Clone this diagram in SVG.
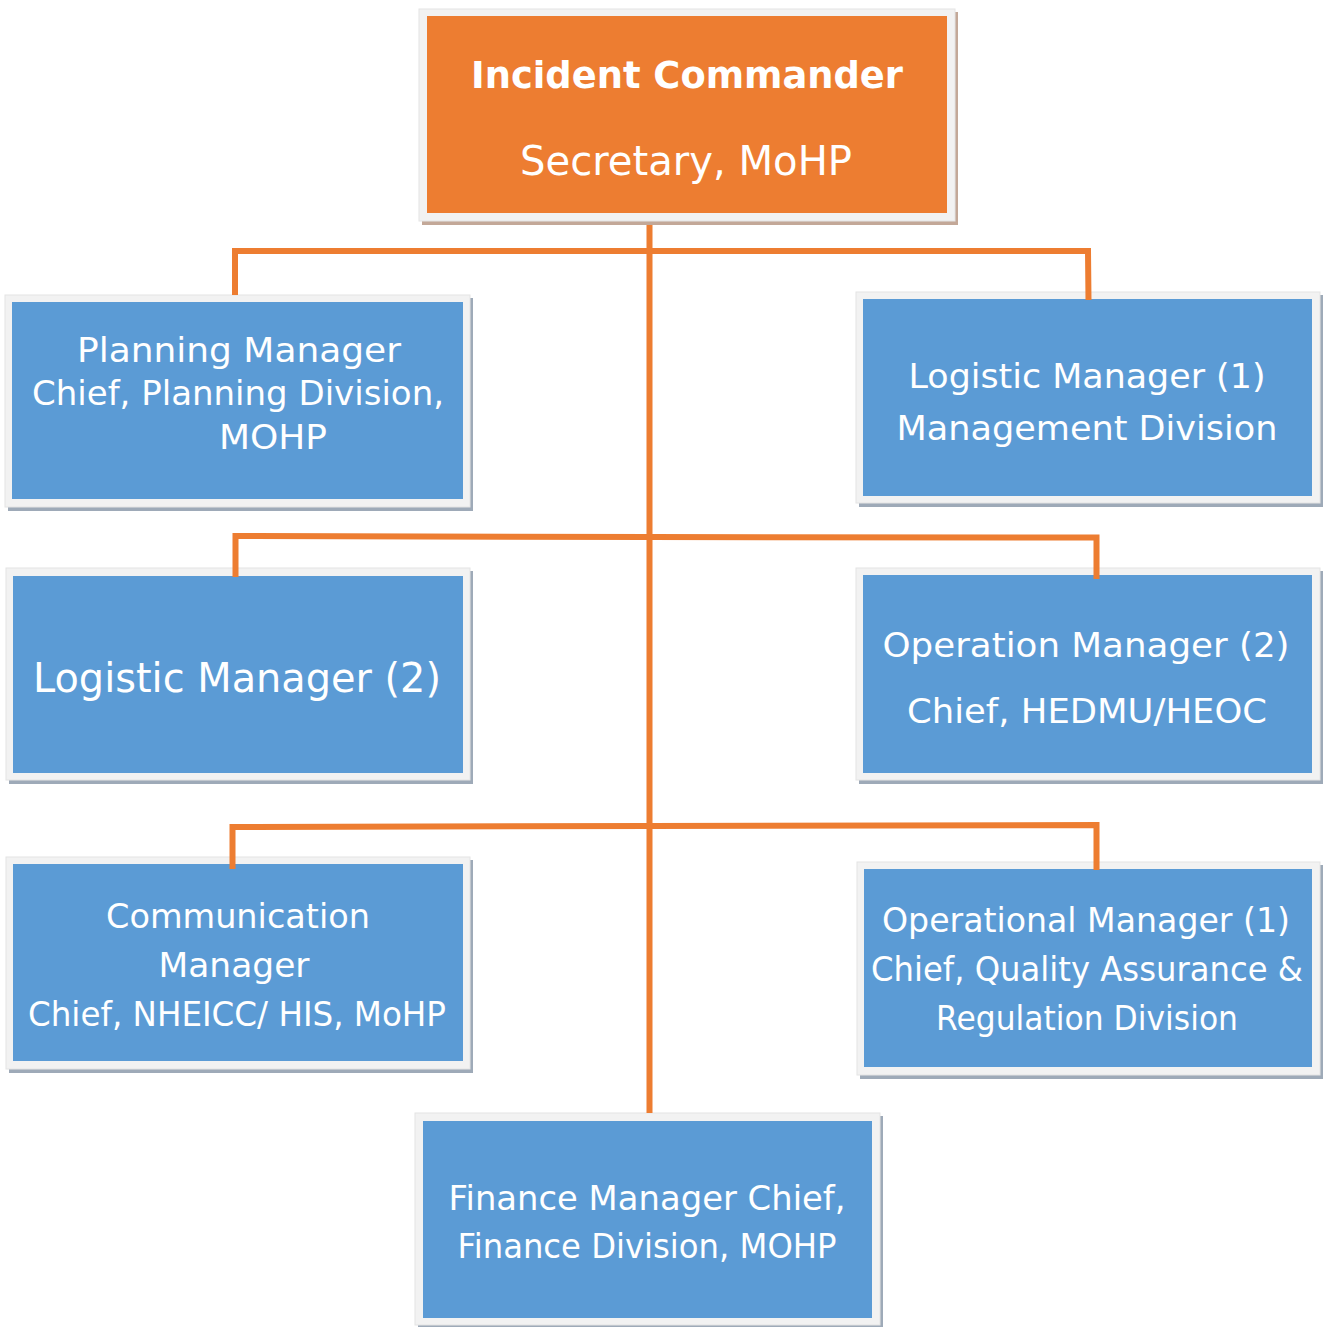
<svg xmlns="http://www.w3.org/2000/svg" width="1325" height="1327" viewBox="0 0 1325 1327">
<style>
.frame{fill:#f2f2f2;stroke:#e4e4e4;stroke-width:1}
.sb{fill:#9eaab8}
.so{fill:#c3a898}
.blue{fill:#5b9bd5}
.orange{fill:#ed7d31}
.t{font-family:"DejaVu Sans",sans-serif;fill:#ffffff;text-anchor:middle;font-weight:normal}
.c{fill:none;stroke:#ed7d31;stroke-width:6;stroke-linejoin:miter}
</style>
<rect width="1325" height="1327" fill="#ffffff"/>
<g id="incident-commander">
<rect class="so" x="422" y="12" width="536" height="213"/>
<rect class="frame" x="419" y="9" width="536" height="212"/>
<rect class="orange" x="427" y="16" width="520" height="197"/>
<text class="t" x="687" y="88" font-size="38" font-weight="bold" style="font-weight:bold" textLength="432" lengthAdjust="spacingAndGlyphs">Incident Commander</text>
<text class="t" x="686" y="175" font-size="40" textLength="332" lengthAdjust="spacingAndGlyphs">Secretary, MoHP</text>
</g>
<g id="planning-manager">
<rect class="sb" x="8" y="298" width="465" height="213"/>
<rect class="frame" x="5" y="295" width="465" height="212"/>
<rect class="blue" x="12" y="302" width="451" height="197"/>
<text class="t" x="239" y="362" font-size="34" textLength="324" lengthAdjust="spacingAndGlyphs">Planning Manager</text>
<text class="t" x="238" y="405" font-size="34" textLength="412" lengthAdjust="spacingAndGlyphs">Chief, Planning Division,</text>
<text class="t" x="273" y="449" font-size="34" textLength="108" lengthAdjust="spacingAndGlyphs">MOHP</text>
</g>
<g id="logistic-manager-1">
<rect class="sb" x="859" y="295" width="464" height="212"/>
<rect class="frame" x="856" y="292" width="464" height="211"/>
<rect class="blue" x="863" y="299" width="449" height="197"/>
<text class="t" x="1087" y="388" font-size="34" textLength="357" lengthAdjust="spacingAndGlyphs">Logistic Manager (1)</text>
<text class="t" x="1087" y="440" font-size="34" textLength="381" lengthAdjust="spacingAndGlyphs">Management Division</text>
</g>
<g id="logistic-manager-2">
<rect class="sb" x="9" y="571" width="464" height="213"/>
<rect class="frame" x="6" y="568" width="464" height="212"/>
<rect class="blue" x="13" y="576" width="450" height="197"/>
<text class="t" x="237" y="692" font-size="40" textLength="408" lengthAdjust="spacingAndGlyphs">Logistic Manager (2)</text>
</g>
<g id="operation-manager-2">
<rect class="sb" x="859" y="571" width="464" height="213"/>
<rect class="frame" x="856" y="568" width="464" height="212"/>
<rect class="blue" x="863" y="575" width="449" height="198"/>
<text class="t" x="1086" y="657" font-size="34" textLength="407" lengthAdjust="spacingAndGlyphs">Operation Manager (2)</text>
<text class="t" x="1087" y="723" font-size="34" textLength="360" lengthAdjust="spacingAndGlyphs">Chief, HEDMU/HEOC</text>
</g>
<g id="communication-manager">
<rect class="sb" x="9" y="860" width="464" height="213"/>
<rect class="frame" x="6" y="857" width="464" height="212"/>
<rect class="blue" x="13" y="864" width="450" height="197"/>
<text class="t" x="238" y="928" font-size="34" textLength="264" lengthAdjust="spacingAndGlyphs">Communication</text>
<text class="t" x="234" y="977" font-size="34" textLength="151" lengthAdjust="spacingAndGlyphs">Manager</text>
<text class="t" x="237" y="1026" font-size="34" textLength="418" lengthAdjust="spacingAndGlyphs">Chief, NHEICC/ HIS, MoHP</text>
</g>
<g id="operational-manager-1">
<rect class="sb" x="860" y="865" width="463" height="214"/>
<rect class="frame" x="857" y="862" width="463" height="213"/>
<rect class="blue" x="864" y="869" width="448" height="198"/>
<text class="t" x="1086" y="932" font-size="34" textLength="408" lengthAdjust="spacingAndGlyphs">Operational Manager (1)</text>
<text class="t" x="1087" y="981" font-size="34" textLength="432" lengthAdjust="spacingAndGlyphs">Chief, Quality Assurance &amp;</text>
<text class="t" x="1087" y="1030" font-size="34" textLength="302" lengthAdjust="spacingAndGlyphs">Regulation Division</text>
</g>
<g id="finance-manager">
<rect class="sb" x="418" y="1116" width="465" height="213"/>
<rect class="frame" x="415" y="1113" width="465" height="212"/>
<rect class="blue" x="423" y="1121" width="449" height="197"/>
<text class="t" x="647" y="1210" font-size="34" textLength="397" lengthAdjust="spacingAndGlyphs">Finance Manager Chief,</text>
<text class="t" x="647" y="1258" font-size="34" textLength="379" lengthAdjust="spacingAndGlyphs">Finance Division, MOHP</text>
</g>
<g id="connectors">
<path class="c" d="M649.5 225 V1113"/>
<path class="c" d="M235 295 V251 H1088 L1088.5 300"/>
<path class="c" d="M235.5 577 V536 L650 537 L1096.5 537.5 V579"/>
<path class="c" d="M232.5 869 V827 L650 826 L1096.5 825 V870"/>
</g>
</svg>
